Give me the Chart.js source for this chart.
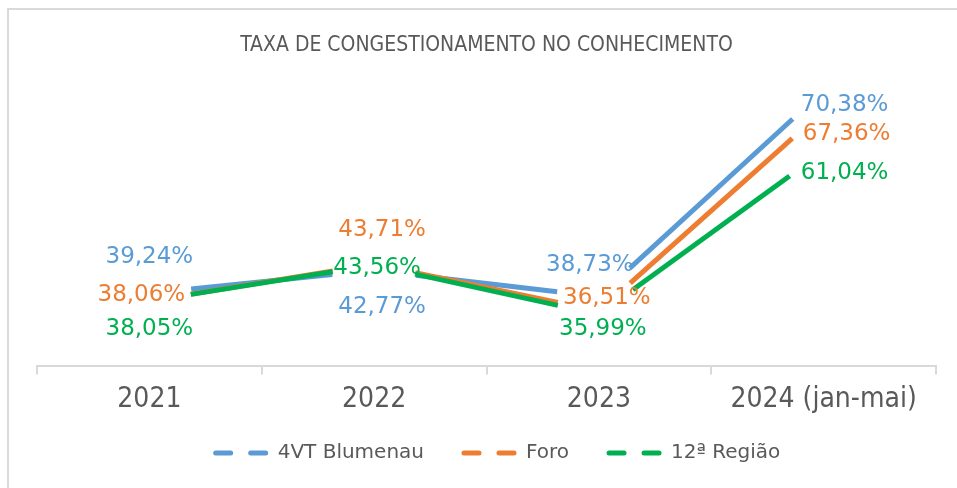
<!DOCTYPE html>
<html>
<head>
<meta charset="utf-8">
<script src="https://cdn.jsdelivr.net/npm/chart.js@4.4.1/dist/chart.umd.min.js"></script>
<style>
  html, body { margin: 0; padding: 0; background: #fff; }
  #wrap { width: 957px; height: 488px; }
</style>
</head>
<body>
<div id="wrap"><canvas id="myChart" width="957" height="488"></canvas></div>
<script>
'use strict';

let chartTitle = 'TAXA DE CONGESTIONAMENTO NO CONHECIMENTO';
let years = ['2021', '2022', '2023', '2024 (jan-mai)'];
let seriesNames = ['4VT Blumenau', 'Foro', '12ª Região'];
let blumenauRates = [39.24, 42.77, 38.73, 70.38];
let foroRates = [38.06, 43.71, 36.51, 67.36];
let regiaoRates = [38.05, 43.56, 35.99, 61.04];
let seriesColors = ['#5B9BD5', '#ED7D31', '#00B050'];

// label offsets from each point, in px (same order as the series)
let labelShift = [
    [[0, -36], [8, 37], [-9, -32], [21, 14]],
    [[-8, -6], [8, -34], [8, -13], [23, 24]],
    [[0, 28], [3, 3], [4, 15], [21, 22]]
];
let lineGap = 42;   // each segment stops short of its points

let greyText = '#595959';
let condensed = "'DejaVu Sans Condensed', 'DejaVu Sans', sans-serif";
let plain = "'DejaVu Sans', sans-serif";

function trimmedDash(ctx) {
    let len = Math.hypot(ctx.p1.x - ctx.p0.x, ctx.p1.y - ctx.p0.y);
    let body = Math.max(len - 2 * lineGap, 0);
    return [0, lineGap, body, len + 1000];
}

function formatRate(v) {
    return v.toFixed(2).replace('.', ',') + '%';
}

let datasets = [blumenauRates, foroRates, regiaoRates].map(function (values, i) {
    return {
        label: seriesNames[i],
        data: values,
        borderColor: seriesColors[i],
        backgroundColor: seriesColors[i],
        borderWidth: 5,
        pointRadius: 0,
        pointHoverRadius: 0,
        tension: 0,
        order: 2 - i,   // green on top
        segment: { borderDash: trimmedDash }
    };
});

let frame = {
    id: 'frame',
    beforeDraw(chart) {
        let ctx = chart.ctx;
        ctx.save();
        ctx.fillStyle = '#fff';
        ctx.fillRect(0, 0, chart.width, chart.height);
        ctx.strokeStyle = '#d9d9d9';
        ctx.lineWidth = 2;
        ctx.strokeRect(8, 9, 2000, 2000);
        ctx.restore();
    }
};

let valueLabels = {
    id: 'valueLabels',
    afterDatasetsDraw(chart) {
        let ctx = chart.ctx;
        ctx.save();
        ctx.font = '23px ' + plain;
        ctx.textAlign = 'center';
        ctx.textBaseline = 'middle';
        chart.data.datasets.forEach(function (ds, i) {
            let meta = chart.getDatasetMeta(i);
            meta.data.forEach(function (pt, j) {
                let shift = labelShift[i][j];
                ctx.fillStyle = seriesColors[i];
                ctx.fillText(formatRate(ds.data[j]), pt.x + shift[0], pt.y + shift[1]);
            });
        });
        ctx.restore();
    }
};

// legend marker: blank lead-in, then two dashes; the lead-in gives
// the spacing between legend items
let legendLead = 23;
let markerDash = [15, 20, 15, 1000];
let markerPeriod = markerDash.reduce((a, b) => a + b, 0);

let ctx = document.getElementById('myChart').getContext('2d');
let chart = new Chart(ctx, {
    type: 'line',
    data: {
        labels: years,
        datasets: datasets
    },
    options: {
        responsive: false,
        animation: false,
        devicePixelRatio: 1,
        layout: {
            padding: { left: 37, right: 21, top: 33, bottom: 15 }
        },
        scales: {
            x: {
                offset: true,
                grid: {
                    display: true,
                    offset: true,
                    drawOnChartArea: false,
                    drawTicks: true,
                    tickLength: 8,
                    color: '#d9d9d9',
                    lineWidth: 2
                },
                border: { display: true, color: '#d9d9d9', width: 2 },
                ticks: {
                    color: greyText,
                    padding: 9,
                    font: { family: condensed, size: 28, lineHeight: 1.2 }
                }
            },
            y: {
                display: false,
                min: 28,
                max: 74.6
            }
        },
        plugins: {
            title: {
                display: true,
                text: chartTitle,
                color: greyText,
                font: { family: condensed, size: 21, weight: 'normal' },
                padding: { top: 0, bottom: 5 }
            },
            legend: {
                position: 'bottom',
                labels: {
                    color: greyText,
                    font: { family: plain, size: 20 },
                    usePointStyle: true,
                    pointStyleWidth: 52 + legendLead,
                    boxWidth: 52 + legendLead,
                    padding: 17,
                    generateLabels(chart) {
                        return chart.data.datasets.map(function (ds, i) {
                            return {
                                text: ds.label,
                                fillStyle: ds.borderColor,
                                strokeStyle: ds.borderColor,
                                fontColor: greyText,
                                lineWidth: 5,
                                lineDash: markerDash,
                                lineDashOffset: markerPeriod - legendLead,
                                lineCap: 'round',
                                pointStyle: 'line',
                                hidden: false,
                                datasetIndex: i
                            };
                        });
                    }
                }
            },
            tooltip: { enabled: false }
        }
    },
    plugins: [frame, valueLabels]
});
</script>
</body>
</html>
